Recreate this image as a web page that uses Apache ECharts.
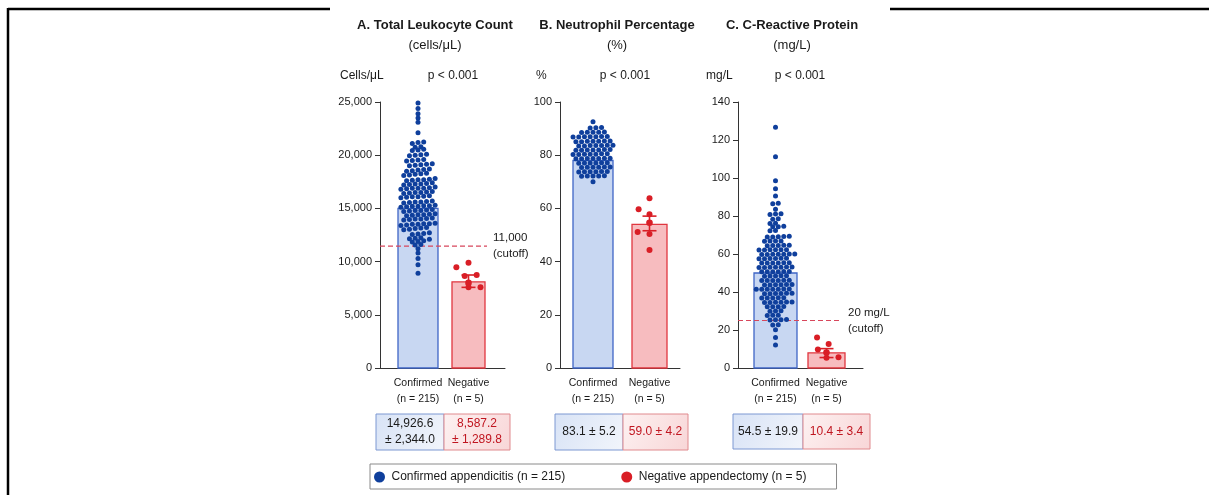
<!DOCTYPE html>
<html><head><meta charset="utf-8">
<script src="https://cdn.jsdelivr.net/npm/echarts@6/dist/echarts.min.js"></script>
<style>html,body{margin:0;padding:0;background:#fff}#c{width:1209px;height:495px}</style>
</head><body><div id="c"></div><script>
// ---------- data ----------
const categories = ['Confirmed\n(n = 215)', 'Negative\n(n = 5)'];
const legendNames = ['Confirmed appendicitis (n = 215)', 'Negative appendectomy (n = 5)'];
const panelTitles = ['A. Total Leukocyte Count', 'B. Neutrophil Percentage', 'C. C-Reactive Protein'];
const panelSubtitles = ['(cells/μL)', '(%)', '(mg/L)'];
const axisUnits = ['Cells/μL', '%', 'mg/L'];
const pLabels = ['p < 0.001', 'p < 0.001', 'p < 0.001'];
const yMaxes = [25000, 100, 140];
const yIntervals = [5000, 20, 20];

const wbcConfirmed = [
  25600, 24900, 24400, 23900, 23500, 23100, 22100,
  21200, 21100, 21250, 20800, 20750, 20500, 20450, 20550,
  20000, 20050, 19950, 20100, 19500, 19550, 19450, 19600,
  19100, 19050, 19150, 19000, 19200, 18600, 18650, 18550, 18700, 18500,
  18200, 18150, 18250, 18100, 18300, 17700, 17750, 17650, 17800, 17600, 17700,
  17300, 17250, 17350, 17200, 17400, 17300,
  16900, 16950, 16850, 16900, 17000, 16800, 16900,
  16500, 16550, 16450, 16600, 16400, 16500,
  16100, 16050, 16150, 16000, 16200, 16100,
  15600, 15650, 15550, 15700, 15500, 15600,
  15200, 15250, 15150, 15300, 15100, 15200, 15250,
  14800, 14850, 14750, 14900, 14700, 14800,
  14400, 14450, 14350, 14500, 14300, 14400,
  14000, 14050, 13950, 14100, 13900, 14000,
  13500, 13550, 13450, 13600, 13400, 13500, 13550,
  13100, 13050, 13150, 13000, 13200,
  12600, 12650, 12550, 12700, 12200, 12250, 12150, 12100,
  11900, 11850, 11950, 11600, 11550, 11200, 10800, 10300, 9700, 8900
];
const wbcNegative = [9900, 9460, 8740, 8650, 7580, 7580];
const wbcBars = [15000, 8100];
const wbcNegMeanErr = [8000, 7580, 8740];   // mean, low, high
const wbcCutoff = 11450;
const wbcCutoffLabel = '11,000\n(cutoff)';

const neutConfirmed = [
  92.6,
  90.4, 90.2, 90.3,
  88.6, 88.7, 88.5, 88.6, 88.6,
  86.9, 87.0, 86.8, 86.9, 87.0, 86.9, 86.8,
  85.2, 85.3, 85.1, 85.2, 85.2, 85.3, 85.1,
  83.6, 83.7, 83.5, 83.6, 83.6, 83.7, 83.5,
  82.0, 82.1, 81.9, 82.0, 82.0, 82.1, 81.9,
  80.4, 80.5, 80.3, 80.4, 80.4, 80.5, 80.3,
  78.8, 78.9, 78.7, 78.8, 78.8, 78.9, 78.7,
  77.1, 77.2, 77.0, 77.1, 77.1, 77.2,
  75.5, 75.6, 75.4, 75.5, 75.5, 75.6,
  73.8, 73.9, 73.7, 73.8, 73.8, 73.9,
  72.2, 72.3, 72.1, 72.2, 72.2,
  70.0
];
const neutNegative = [63.8, 59.7, 57.8, 51.1, 50.4, 44.4];
const neutBars = [78, 54];
const neutNegMeanErr = [54.6, 51.6, 57.1];

const crpConfirmed = [
  126.7, 111.2, 98.6, 94.4, 90.5, 86.7, 86.5, 83.5,
  81.0, 81.2, 80.8, 78.3, 78.5, 76.2, 76.1, 74.4, 74.6, 74.3, 72.2, 72.4,
  69.1, 69.3, 68.9, 69.0, 69.2, 66.8, 66.9, 66.7, 66.8,
  64.5, 64.6, 64.4, 64.5, 64.6, 62.2, 62.3, 62.1, 62.2, 62.3, 62.1,
  59.9, 60.0, 59.8, 59.9, 60.0, 59.8, 59.9, 57.6, 57.7, 57.5, 57.6, 57.7, 57.5,
  55.3, 55.4, 55.2, 55.3, 55.4, 55.2, 53.0, 53.1, 52.9, 53.0, 53.1, 52.9, 53.0,
  50.7, 50.8, 50.6, 50.7, 50.8, 50.6, 48.4, 48.5, 48.3, 48.4, 48.5,
  46.1, 46.2, 46.0, 46.1, 46.2, 46.0, 43.8, 43.9, 43.7, 43.8, 43.9, 43.7,
  41.5, 41.6, 41.4, 41.5, 41.6, 41.4, 41.5, 39.2, 39.3, 39.1, 39.2, 39.3, 39.1,
  36.9, 37.0, 36.8, 36.9, 37.0, 34.6, 34.7, 34.5, 34.6, 34.7, 34.5,
  32.3, 32.4, 32.2, 32.3, 30.0, 30.1, 29.9, 27.7, 27.8, 27.6,
  25.4, 25.5, 25.3, 25.4, 22.6, 22.8, 20.1, 16.1, 12.1
];
const crpNegative = [16.1, 12.6, 9.8, 5.6, 5.4];
const crpBars = [50, 8];
const crpNegMeanErr = [8.1, 5.5, 10.2];
const crpCutoff = 25;
const crpCutoffLabel = '20 mg/L\n(cutoff)';

const tableConfirmed = ['14,926.6\n± 2,344.0', '83.1 ± 5.2', '54.5 ± 19.9'];
const tableNegative = ['8,587.2\n± 1,289.8', '59.0 ± 4.2', '10.4 ± 3.4'];

// ---------- layout / style ----------
const FONT = '"Liberation Sans", Arial, sans-serif';
const BLUE = '#0f3f9c', RED = '#d91e26';
const plotTop = 102, plotH = 266;
const layout = [
  { axisLeft: 380, axisW: 125, dataLeft: 392.75, dataW: 101, barW: [40, 33], titleX: 435, unitX: 340, pX: 453,
    cutoffEnd: 0.856, cells: [376, 444, 510], cellY: 414, cellH: 36, rowUnits: 300, dotGap: 5.7 },
  { axisLeft: 560, axisW: 120, dataLeft: 564.75, dataW: 113, barW: [40, 35], titleX: 617, unitX: 536, pX: 625,
    cells: [555, 623, 688], cellY: 414, cellH: 36, rowUnits: 0.7, dotGap: 5.7 },
  { axisLeft: 738, axisW: 125, dataLeft: 750, dataW: 102, barW: [43, 37], titleX: 792, unitX: 706, pX: 800,
    cutoffEnd: 0.832, cells: [733, 803, 870], cellY: 414, cellH: 35, rowUnits: 1.0, dotGap: 5.5 }
];
const panels = [
  { conf: wbcConfirmed, neg: wbcNegative, bars: wbcBars, err: wbcNegMeanErr, cutoff: wbcCutoff, cutoffLabel: wbcCutoffLabel },
  { conf: neutConfirmed, neg: neutNegative, bars: neutBars, err: neutNegMeanErr },
  { conf: crpConfirmed, neg: crpNegative, bars: crpBars, err: crpNegMeanErr, cutoff: crpCutoff, cutoffLabel: crpCutoffLabel }
];

// deterministic dot-plot layout: group close values into rows, centre each row,
// and stagger neighbouring rows by half a slot so they interleave
function dotRows(vals, rowUnits, s) {
  const order = vals.map((v, i) => i).sort((a, b) => vals[a] - vals[b]);
  const rows = []; let row = [];
  order.forEach(i => {
    if (row.length && vals[i] - vals[row[0]] >= rowUnits - 1e-9) { rows.push(row); row = []; }
    row.push(i);
  });
  if (row.length) rows.push(row);
  const out = new Array(vals.length);
  let prevPhase = 0, prevN = 1, flip = 1;
  rows.forEach(r => {
    const n = r.length;
    const p0 = (n % 2 === 1) ? 0 : 0.5;
    let shift = 0;
    if (n > 1 && prevN > 1) {
      const need = ((prevPhase + 0.5 - p0) % 1 + 1) % 1;
      if (Math.abs(need - 0.5) < 1e-6) { shift = flip * 0.5; flip = -flip; }
    }
    r.forEach((i, j) => { out[i] = (j - (n - 1) / 2 + shift) * s; });
    prevPhase = ((p0 + shift) % 1 + 1) % 1; prevN = n;
  });
  return out;
}
// deterministic beeswarm for the few negative points
function swarm(vals, pxPerUnit, d) {
  const order = vals.map((v, i) => i).sort((a, b) => vals[a] - vals[b]);
  const placed = []; const out = new Array(vals.length);
  let flip = 1;
  order.forEach(i => {
    const y = vals[i] * pxPerUnit;
    const near = placed.filter(p => Math.abs(p.y - y) < d);
    const cands = [0];
    near.forEach(p => { const dx = Math.sqrt(d * d - (p.y - y) * (p.y - y)); cands.push(p.x + dx, p.x - dx); });
    cands.sort((a, b) => {
      const da = Math.abs(a) - Math.abs(b);
      if (Math.abs(da) > 0.01) return da;
      return flip * (a - b);
    });
    for (const x of cands) {
      if (near.every(p => (p.x - x) * (p.x - x) + (p.y - y) * (p.y - y) >= d * d - 0.01)) {
        placed.push({ x, y }); out[i] = x; break;
      }
    }
    flip = -flip;
  });
  return out;
}

const grid = [], xAxis = [], yAxis = [], series = [], graphic = [];
const axisColor = '#333';

panels.forEach((P, k) => {
  const L = layout[k];
  const gA = grid.length;
  grid.push({ left: L.axisLeft, top: plotTop, width: L.axisW, height: plotH });
  grid.push({ left: L.dataLeft, top: plotTop, width: L.dataW, height: plotH });
  xAxis.push({ gridIndex: gA, type: 'value', min: 0, max: 1, axisLine: { show: true, lineStyle: { color: axisColor, width: 1 } },
    axisTick: { show: false }, axisLabel: { show: false }, splitLine: { show: false } });
  yAxis.push({ gridIndex: gA, type: 'value', min: 0, max: yMaxes[k], interval: yIntervals[k],
    axisLine: { show: true, lineStyle: { color: axisColor, width: 1 } },
    axisTick: { show: true, length: 5, lineStyle: { color: axisColor } },
    axisLabel: { fontSize: 11, color: '#1a1a1a', margin: 8, fontFamily: FONT,
      formatter: v => v.toLocaleString('en-US') },
    splitLine: { show: false } });
  xAxis.push({ gridIndex: gA + 1, type: 'category', data: categories, boundaryGap: true,
    axisLine: { show: false }, axisTick: { show: false },
    axisLabel: { fontSize: 10.5, color: '#1a1a1a', lineHeight: 16, margin: 7, fontFamily: FONT, interval: 0 } });
  yAxis.push({ gridIndex: gA + 1, type: 'value', min: 0, max: yMaxes[k], show: false });

  const pxPerUnit = plotH / yMaxes[k];
  const barW = L.barW;
  series.push({
    type: 'custom', name: 'bars' + k, xAxisIndex: gA + 1, yAxisIndex: gA + 1, z: 1,
    data: P.bars.map((v, i) => [i, v]),
    encode: { x: 0, y: 1 },
    renderItem: (params, api) => {
      const ci = api.value(0);
      const top = api.coord([ci, api.value(1)]), base = api.coord([ci, 0]);
      const w = barW[ci];
      return { type: 'rect', shape: { x: top[0] - w / 2, y: top[1], width: w, height: base[1] - top[1] },
        style: ci === 0 ? { fill: '#c8d7f2', stroke: '#3f66c6', lineWidth: 1.3 }
                        : { fill: '#f7bcbf', stroke: '#e0363f', lineWidth: 1.3 } };
    }
  });
  const offC = dotRows(P.conf, L.rowUnits, L.dotGap);
  series.push({
    type: 'scatter', name: legendNames[0], xAxisIndex: gA + 1, yAxisIndex: gA + 1, z: 3,
    symbol: 'circle', symbolSize: 5, itemStyle: { color: BLUE, opacity: 1 },
    data: P.conf.map((v, i) => ({ value: [0, v], symbolOffset: [offC[i], 0] }))
  });
  const offN = swarm(P.neg, pxPerUnit, 12);
  series.push({
    type: 'scatter', name: legendNames[1], xAxisIndex: gA + 1, yAxisIndex: gA + 1, z: 3,
    symbol: 'circle', symbolSize: 6, itemStyle: { color: RED, opacity: 1 },
    data: P.neg.map((v, i) => ({ value: [1, v], symbolOffset: [offN[i], 0] }))
  });
  series.push({
    type: 'custom', name: 'err' + k, xAxisIndex: gA + 1, yAxisIndex: gA + 1, z: 4,
    data: [[1, P.err[0], P.err[1], P.err[2]]],
    encode: { x: 0, y: [1, 2, 3] },
    renderItem: (params, api) => {
      const ci = api.value(0);
      const m = api.coord([ci, api.value(1)]), lo = api.coord([ci, api.value(2)]), hi = api.coord([ci, api.value(3)]);
      const cw = 7, st = { stroke: RED, lineWidth: 1.6 };
      return { type: 'group', children: [
        { type: 'line', shape: { x1: m[0], y1: lo[1], x2: m[0], y2: hi[1] }, style: st },
        { type: 'line', shape: { x1: m[0] - cw, y1: lo[1], x2: m[0] + cw, y2: lo[1] }, style: st },
        { type: 'line', shape: { x1: m[0] - cw, y1: hi[1], x2: m[0] + cw, y2: hi[1] }, style: st },
        { type: 'circle', shape: { cx: m[0], cy: m[1], r: 3.3 }, style: { fill: RED } }
      ] };
    }
  });
  if (P.cutoff !== undefined) {
    series.push({
      type: 'line', name: 'cutoff' + k, xAxisIndex: gA, yAxisIndex: gA, z: 2,
      data: [[0, P.cutoff], [L.cutoffEnd, P.cutoff]], symbol: 'none', silent: true,
      lineStyle: { color: '#d8475c', width: 1.2, type: [5, 3] },
      endLabel: { show: true, formatter: P.cutoffLabel, distance: 6, fontSize: 11.5, lineHeight: 16,
        color: '#1a1a1a', fontFamily: FONT, align: 'left' }
    });
  }
  graphic.push(
    { type: 'text', x: L.titleX, y: 25, style: { text: panelTitles[k], align: 'center', verticalAlign: 'middle',
      fontSize: 13, fontWeight: 'bold', fontFamily: FONT, fill: '#1a1a1a' } },
    { type: 'text', x: L.titleX, y: 45, style: { text: panelSubtitles[k], align: 'center', verticalAlign: 'middle',
      fontSize: 13, fontWeight: 'normal', fontFamily: FONT, fill: '#1a1a1a' } },
    { type: 'text', x: L.unitX, y: 76, style: { text: axisUnits[k], align: 'left', verticalAlign: 'middle',
      fontSize: 12, fontFamily: FONT, fill: '#1a1a1a' } },
    { type: 'text', x: L.pX, y: 76, style: { text: pLabels[k], align: 'center', verticalAlign: 'middle',
      fontSize: 12, fontFamily: FONT, fill: '#1a1a1a' } }
  );
  const c = L.cells;
  graphic.push(
    { type: 'rect', shape: { x: c[0], y: L.cellY, width: c[1] - c[0], height: L.cellH },
      style: { fill: new echarts.graphic.LinearGradient(0, 0, 1, 1, [{ offset: 0, color: '#d8e3f6' }, { offset: 1, color: '#f2f5fb' }]),
        stroke: '#7d98d2', lineWidth: 1 } },
    { type: 'rect', shape: { x: c[1], y: L.cellY, width: c[2] - c[1], height: L.cellH },
      style: { fill: new echarts.graphic.LinearGradient(0, 0, 1, 1, [{ offset: 0, color: '#fdf1f1' }, { offset: 1, color: '#f8d6d7' }]),
        stroke: '#e08a8e', lineWidth: 1 } },
    { type: 'text', x: (c[0] + c[1]) / 2, y: L.cellY + L.cellH / 2, z: 10,
      style: { text: tableConfirmed[k], align: 'center', verticalAlign: 'middle', lineHeight: 16,
        fontSize: 12, fontFamily: FONT, fill: '#1a1a1a' } },
    { type: 'text', x: (c[1] + c[2]) / 2, y: L.cellY + L.cellH / 2, z: 10,
      style: { text: tableNegative[k], align: 'center', verticalAlign: 'middle', lineHeight: 16,
        fontSize: 12, fontFamily: FONT, fill: '#c01620' } }
  );
});

graphic.push(
  { type: 'line', shape: { x1: 8, y1: 9, x2: 330, y2: 9 }, style: { stroke: '#000', lineWidth: 2.5 } },
  { type: 'line', shape: { x1: 890, y1: 9, x2: 1209, y2: 9 }, style: { stroke: '#000', lineWidth: 2.5 } },
  { type: 'line', shape: { x1: 8, y1: 8, x2: 8, y2: 495 }, style: { stroke: '#000', lineWidth: 2.5 } }
);

const chart = echarts.init(document.getElementById('c'), null, { renderer: 'canvas' });
chart.setOption({
  backgroundColor: '#fff',
  animation: false,
  textStyle: { fontFamily: FONT },
  grid, xAxis, yAxis, series, graphic,
  legend: {
    data: [{ name: legendNames[0], icon: 'circle', itemStyle: { color: BLUE } },
           { name: legendNames[1], icon: 'circle', itemStyle: { color: RED } }],
    left: 370, top: 464, itemWidth: 14, itemHeight: 11, itemGap: 56,
    padding: [7, 30, 6, 4], borderColor: '#8a8a8a', borderWidth: 1, selectedMode: false,
    textStyle: { fontSize: 12, color: '#1a1a1a', fontFamily: FONT }
  }
});
</script></body></html>
